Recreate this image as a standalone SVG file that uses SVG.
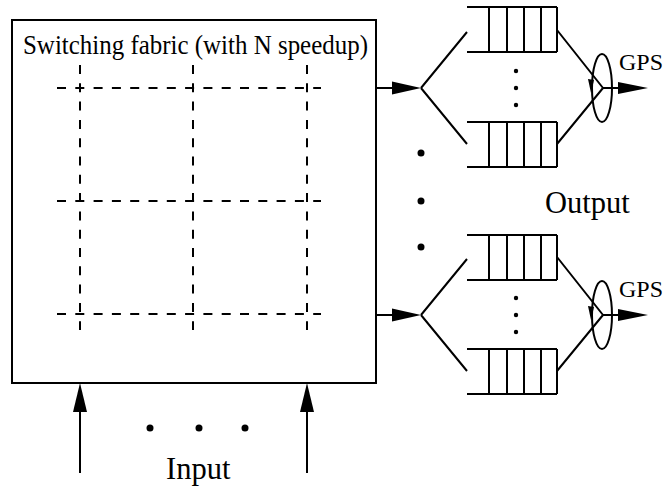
<svg xmlns="http://www.w3.org/2000/svg" width="665" height="487" viewBox="0 0 665 487">
<style>
.ln{stroke:#000;stroke-width:2;fill:none}
.dash{stroke:#000;stroke-width:2;fill:none;stroke-dasharray:9 9.3}
.ah{fill:#000;stroke:none}
.dot{fill:#000}
text{font-family:"Liberation Serif","Times New Roman",serif;fill:#000}
</style>
<defs>
<g id="queue">
<path class="ln" d="M0,0H90M0,45H90M22,0V45M40,0V45M57,0V45M74,0V45M90,0V45"/>
</g>
</defs>
<g id="fabric">
<rect class="ln" x="12" y="20" width="364" height="363"/>
<text x="23" y="54" font-size="27" textLength="345" lengthAdjust="spacingAndGlyphs">Switching fabric (with N speedup)</text>
<path class="dash" d="M57,88H321M57,201H321M57,314H321"/>
<path class="dash" d="M80,65V330M193,65V330M307,65V330"/>
</g>
<g id="output1">
<use href="#queue" x="467" y="7"/>
<use href="#queue" x="467" y="122"/>
<circle class="dot" cx="516" cy="71" r="2.2"/>
<circle class="dot" cx="516" cy="88" r="2.2"/>
<circle class="dot" cx="516" cy="105" r="2.2"/>
<ellipse class="ln" cx="602" cy="88" rx="10" ry="34"/>
<polygon class="ah" points="591,93 588,79 594,80"/>
<text x="619" y="70" font-size="24">GPS</text>
</g>
<g id="output2">
<use href="#queue" x="467" y="235"/>
<use href="#queue" x="467" y="349"/>
<circle class="dot" cx="516" cy="298" r="2.2"/>
<circle class="dot" cx="516" cy="315" r="2.2"/>
<circle class="dot" cx="516" cy="332" r="2.2"/>
<ellipse class="ln" cx="602" cy="315" rx="10" ry="34"/>
<polygon class="ah" points="591,320 588,306 594,307"/>
<text x="619" y="297" font-size="24">GPS</text>
</g>
<g id="labels">
<text x="545" y="213" font-size="30.5">Output</text>
<text x="166" y="479" font-size="30.5">Input</text>
<circle class="dot" cx="421" cy="153" r="3.5"/>
<circle class="dot" cx="421" cy="201" r="3.5"/>
<circle class="dot" cx="421" cy="247" r="3.5"/>
<circle class="dot" cx="150" cy="428" r="3.5"/>
<circle class="dot" cx="199" cy="428" r="3.5"/>
<circle class="dot" cx="245" cy="428" r="3.5"/>
</g>
<g id="connectors">
<path class="ln" d="M376,88H394M421,88L467,32M421,88L467,144M557,30L603,88M557,144L603,88M603,88H620"/>
<polygon class="ah" points="421,88 392,81.5 392,94.5"/>
<polygon class="ah" points="648,88 618,82 618,94"/>
<path class="ln" d="M376,315H394M421,315L467,259M421,315L467,371M557,257L603,315M557,371L603,315M603,315H620"/>
<polygon class="ah" points="421,315 392,308.5 392,321.5"/>
<polygon class="ah" points="648,315 618,309 618,321"/>
<path class="ln" d="M80,473V410M307,473V410"/>
<polygon class="ah" points="80,383 73,412 87,412"/>
<polygon class="ah" points="307,383 300,412 314,412"/>
</g>
</svg>
